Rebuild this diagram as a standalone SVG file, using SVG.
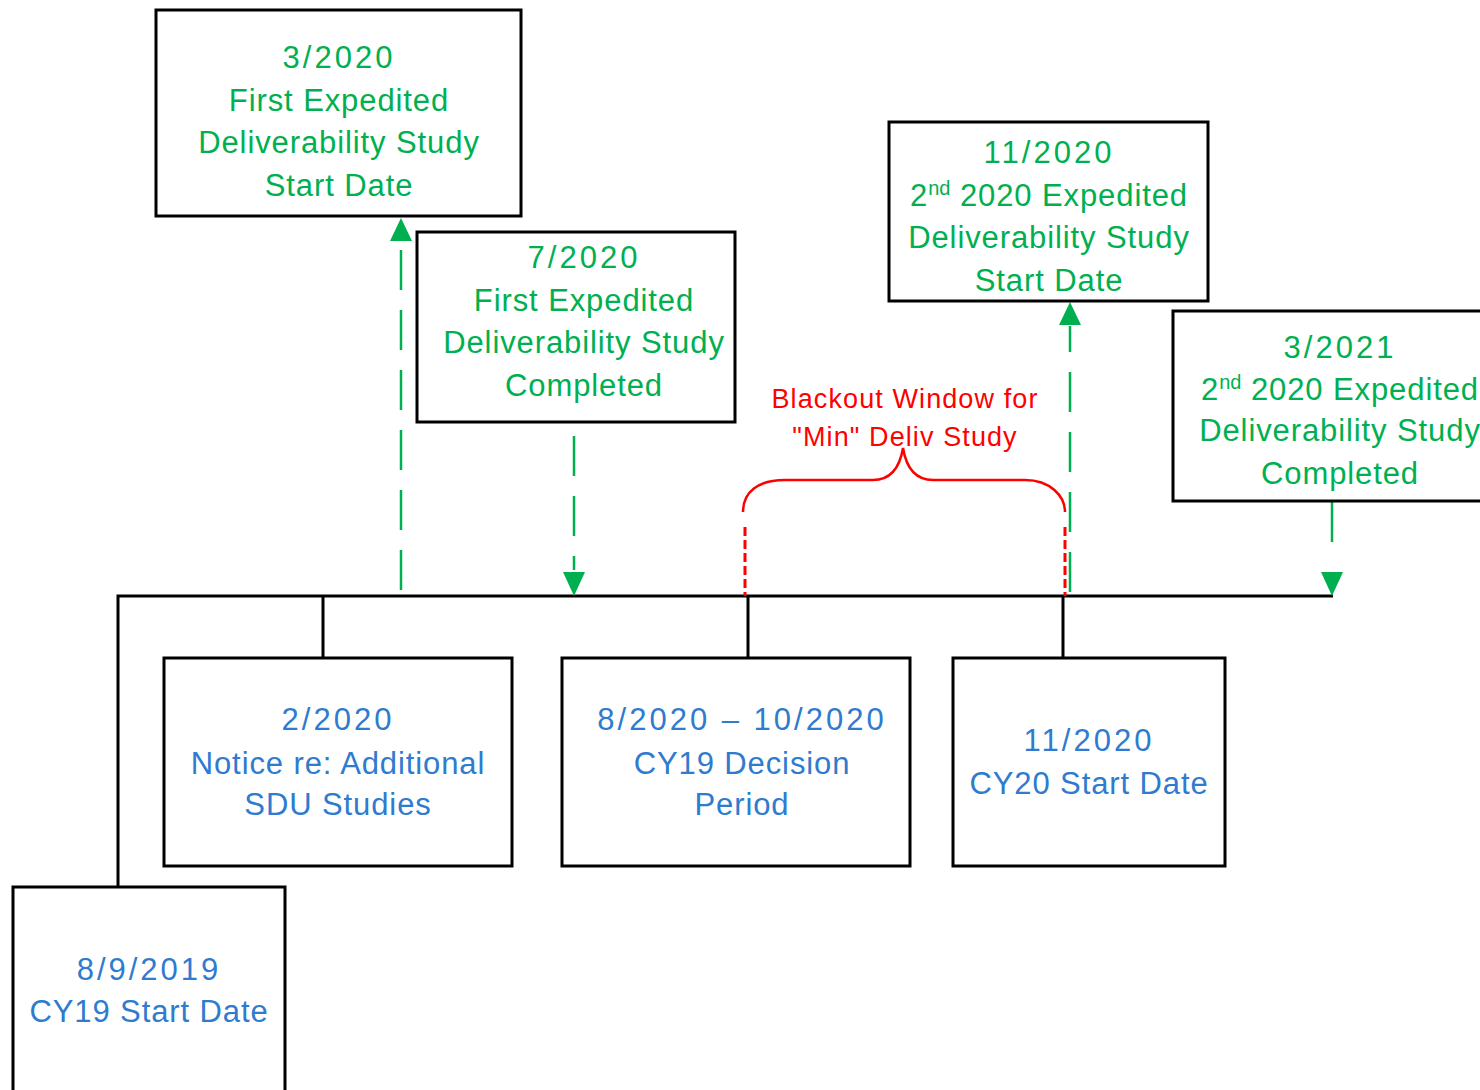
<svg xmlns="http://www.w3.org/2000/svg" width="1480" height="1090" viewBox="0 0 1480 1090">
<defs>
<style>
.box{fill:#fff;stroke:#000;stroke-width:3}
.g{fill:#00B050;font-family:"Liberation Sans",Arial,sans-serif;font-size:31px;letter-spacing:0.9px;text-anchor:middle}
.b{fill:#2E7BCF;font-family:"Liberation Sans",Arial,sans-serif;font-size:31px;letter-spacing:0.9px;text-anchor:middle}
.d{letter-spacing:3px}
.r{fill:#FF0000;font-family:"Liberation Sans",Arial,sans-serif;font-size:27px;letter-spacing:1.1px;text-anchor:middle}
.tl{fill:none;stroke:#000;stroke-width:3}
.gd{fill:none;stroke:#00B050;stroke-width:2.5;stroke-dasharray:40 20}
.rd{fill:none;stroke:#FF0000;stroke-width:3;stroke-dasharray:9 4}
.sup{font-size:20px;letter-spacing:0}
</style>
</defs>
<rect width="1480" height="1090" fill="#fff"/>

<g id="connectors">
<path class="tl" d="M118,887 V596 H1333"/>
<path class="tl" d="M323,596 V658"/>
<path class="tl" d="M748,596 V658"/>
<path class="tl" d="M1063,596 V658"/>
<path class="gd" d="M401,590 V242"/>
<polygon points="401,218 390,241 412,241" fill="#00B050"/>
<path class="gd" d="M574,436 V570"/>
<polygon points="574,596 563,572 585,572" fill="#00B050"/>
<path class="gd" d="M1070,592 V326"/>
<polygon points="1070,302 1059,325 1081,325" fill="#00B050"/>
<path fill="none" stroke="#00B050" stroke-width="2.5" d="M1332,501 V542"/>
<polygon points="1332,596 1321,572 1343,572" fill="#00B050"/>
<path class="rd" d="M745,527 V596"/>
<path class="rd" d="M1065,527 V596"/>
<path fill="none" stroke="#FF0000" stroke-width="2.5" d="M743,512 C743,492 758,480 785,480 L873,480 C892,480 900,466 903,448 C906,466 914,480 933,480 L1025,480 C1050,480 1065,496 1065,512"/>
<text class="r" x="905" y="408">Blackout Window for</text>
<text class="r" x="905" y="446">"Min" Deliv Study</text>
</g>

<g id="node-3-2020">
<rect class="box" x="156" y="10" width="365" height="206"/>
<text class="g d" x="339" y="68">3/2020</text>
<text class="g" x="339" y="111">First Expedited</text>
<text class="g" x="339" y="153">Deliverability Study</text>
<text class="g" x="339" y="196">Start Date</text>
</g>

<g id="node-7-2020">
<rect class="box" x="417" y="232" width="318" height="190"/>
<text class="g d" x="584" y="268">7/2020</text>
<text class="g" x="584" y="311">First Expedited</text>
<text class="g" x="584" y="353">Deliverability Study</text>
<text class="g" x="584" y="396">Completed</text>
</g>

<g id="node-11-2020-study">
<rect class="box" x="889" y="122" width="319" height="179"/>
<text class="g d" x="1049" y="163">11/2020</text>
<text class="g" x="1049" y="206">2<tspan class="sup" dy="-11">nd</tspan><tspan dy="11"> 2020 Expedited</tspan></text>
<text class="g" x="1049" y="248">Deliverability Study</text>
<text class="g" x="1049" y="291">Start Date</text>
</g>

<g id="node-3-2021">
<rect class="box" x="1173" y="311" width="320" height="190"/>
<text class="g d" x="1340" y="358">3/2021</text>
<text class="g" x="1340" y="400">2<tspan class="sup" dy="-11">nd</tspan><tspan dy="11"> 2020 Expedited</tspan></text>
<text class="g" x="1340" y="441">Deliverability Study</text>
<text class="g" x="1340" y="484">Completed</text>
</g>

<g id="node-2-2020">
<rect class="box" x="164" y="658" width="348" height="208"/>
<text class="b d" x="338" y="730">2/2020</text>
<text class="b" x="338" y="774">Notice re: Additional</text>
<text class="b" x="338" y="815">SDU Studies</text>
</g>

<g id="node-8-2020">
<rect class="box" x="562" y="658" width="348" height="208"/>
<text class="b d" x="742" y="730">8/2020 – 10/2020</text>
<text class="b" x="742" y="774">CY19 Decision</text>
<text class="b" x="742" y="815">Period</text>
</g>

<g id="node-11-2020-cy20">
<rect class="box" x="953" y="658" width="272" height="208"/>
<text class="b d" x="1089" y="751">11/2020</text>
<text class="b" x="1089" y="794">CY20 Start Date</text>
</g>

<g id="node-8-9-2019">
<rect class="box" x="13" y="887" width="272" height="210"/>
<text class="b d" x="149" y="980">8/9/2019</text>
<text class="b" x="149" y="1022">CY19 Start Date</text>
</g>
</svg>
